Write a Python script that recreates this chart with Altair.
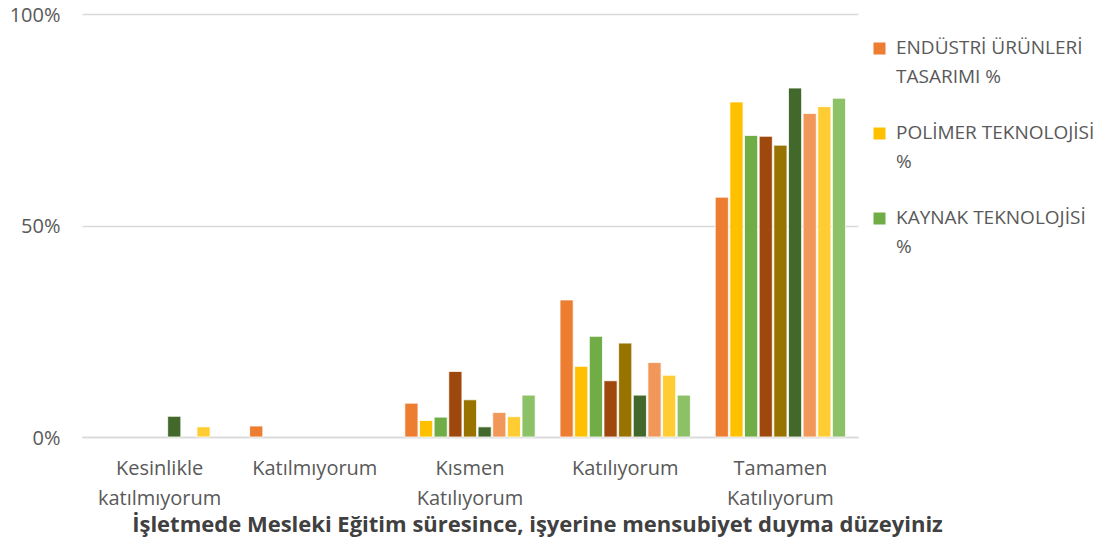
import altair as alt
import pandas as pd

categories = ["Kesinlikle katılmıyorum", "Katılmıyorum", "Kısmen Katılıyorum",
              "Katılıyorum", "Tamamen Katılıyorum"]
series = ["ENDÜSTRİ ÜRÜNLERİ TASARIMI %", "POLİMER TEKNOLOJİSİ %", "KAYNAK TEKNOLOJİSİ %",
          "Seri 4", "Seri 5", "Seri 6", "Seri 7", "Seri 8", "Seri 9"]
colors = ["#ED7D31", "#FFC000", "#70AD47", "#9E480E", "#997300", "#43682B",
          "#F1975A", "#FFCD33", "#8CC168"]
values = [
    [0.0, 2.6, 8.0, 32.4, 56.7],
    [0.0, 0.0, 3.9, 16.7, 79.2],
    [0.0, 0.0, 4.7, 23.8, 71.3],
    [0.0, 0.0, 15.5, 13.3, 71.1],
    [0.0, 0.0, 8.8, 22.2, 69.0],
    [4.9, 0.0, 2.4, 9.9, 82.5],
    [0.0, 0.0, 5.8, 17.6, 76.5],
    [2.4, 0.0, 4.8, 14.6, 78.1],
    [0.0, 0.0, 9.9, 9.9, 80.1],
]
y_ticks = [0, 0.5, 1.0]
x_title = "İşletmede Mesleki Eğitim süresince, işyerine mensubiyet duyma düzeyiniz"

rows = []
for s, vals in zip(series, values):
    for c, v in zip(categories, vals):
        rows.append({"cat": c, "series": s, "v": v / 100})
df = pd.DataFrame(rows)

FONT = "Open Sans"
GREY = "#595959"
DY = -10

legend_expr = ("datum.label == 'ENDÜSTRİ ÜRÜNLERİ TASARIMI %' ? ['ENDÜSTRİ ÜRÜNLERİ', 'TASARIMI %'] : "
               "datum.label == 'POLİMER TEKNOLOJİSİ %' ? ['POLİMER TEKNOLOJİSİ', '%'] : "
               "datum.label == 'KAYNAK TEKNOLOJİSİ %' ? ['KAYNAK TEKNOLOJİSİ', '%'] : datum.label")

chart = alt.Chart(df).transform_filter("datum.v > 0").mark_bar(
    stroke="white", strokeWidth=0.8
).encode(
    x=alt.X("cat:N", sort=categories,
            scale=alt.Scale(domain=categories, paddingInner=0.16, paddingOuter=0.08),
            axis=alt.Axis(title=x_title, labelAngle=0, labelFont=FONT, labelFontSize=20,
                          labelColor=GREY, labelPadding=21 - DY, labelBaseline="top",
                          labelLineHeight=30,
                          labelExpr="indexof(datum.label, ' ') > 0 ? split(datum.label, ' ') : datum.label",
                          ticks=False, domainColor="#D9D9D9", domainWidth=1.5,
                          titleFont=FONT, titleFontSize=22, titleFontWeight="bold",
                          titleColor="#404040", titleX=455, titleY=87,
                          titleAlign="center", titleBaseline="middle")),
    xOffset=alt.XOffset("series:N", sort=series,
                        scale=alt.Scale(domain=series, paddingInner=0.1, paddingOuter=0.0)),
    y=alt.Y("v:Q", scale=alt.Scale(domain=[0, 1]),
            axis=alt.Axis(title=None, values=y_ticks, format=".0%", labelFont=FONT,
                          labelFontSize=20, labelColor=GREY, labelPadding=22,
                          labelOffset=-DY + 1,
                          ticks=False, domain=False, gridColor="#D9D9D9", gridWidth=1.5)),
    color=alt.Color("series:N", sort=series,
                    scale=alt.Scale(domain=series, range=colors),
                    legend=alt.Legend(title=None, values=series[:3], orient="none",
                                      legendX=788, legendY=25, symbolType="square",
                                      symbolSize=144, symbolStrokeWidth=0,
                                      labelFont=FONT, labelFontSize=19, labelColor=GREY,
                                      labelLimit=400, labelExpr=legend_expr,
                                      labelBaseline="top", labelOffset=7,
                                      rowPadding=36, direction="vertical")),
).properties(
    width=776, height=423,
    autosize=alt.AutoSizeParams(type="none"),
    padding={"left": 74, "top": 6, "right": 246, "bottom": 110},
).configure(
    style={"guide-label": {"dy": DY, "lineHeight": 29}}
).configure_view(stroke=None)

chart.save("out.html", embed_options={"renderer": "svg", "actions": False})
